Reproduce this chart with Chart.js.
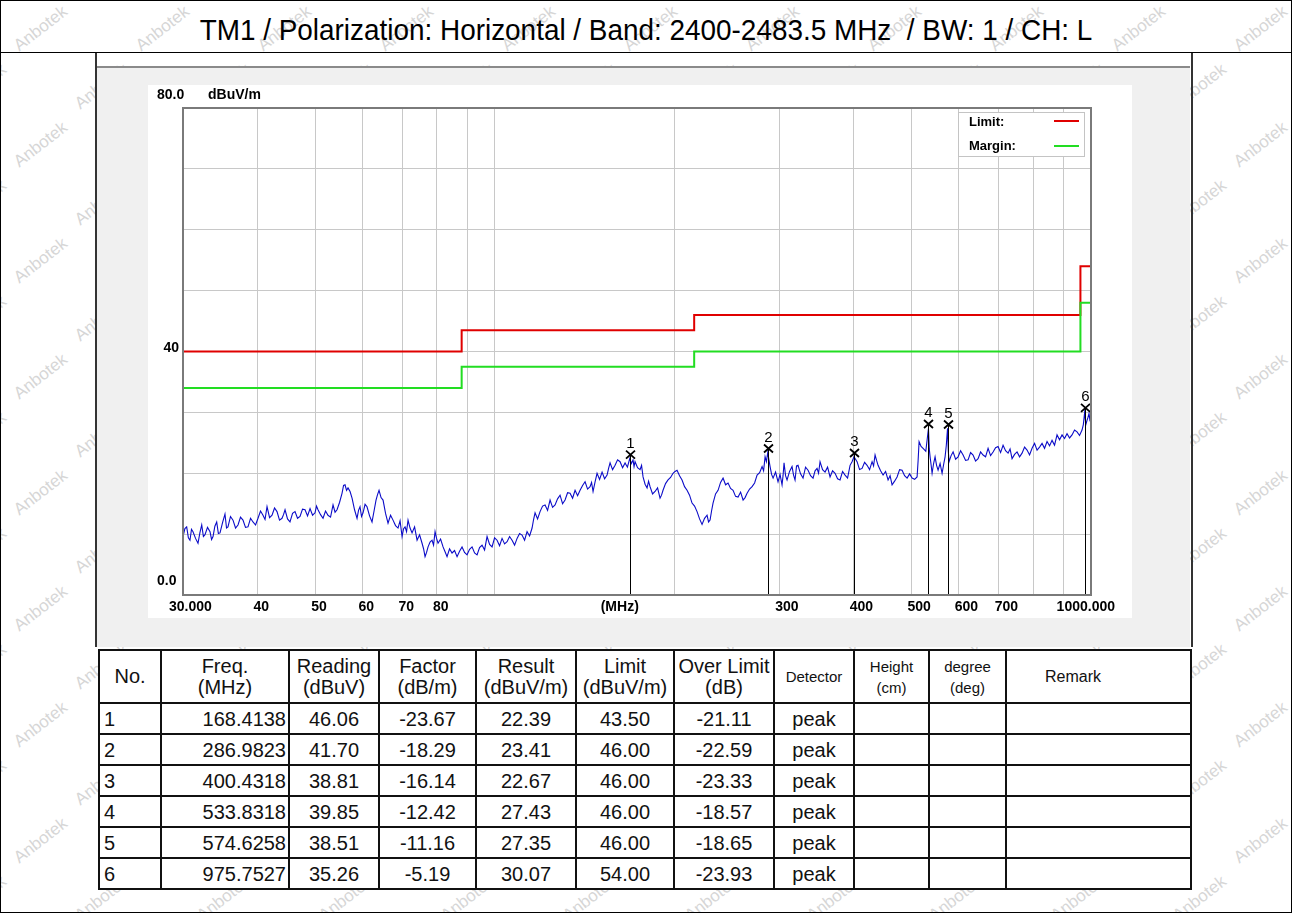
<!DOCTYPE html>
<html>
<head>
<meta charset="utf-8">
<script src="https://cdn.jsdelivr.net/npm/chart.js@4.4.1/dist/chart.umd.min.js"></script>
<style>
html,body{margin:0;padding:0;background:#fff;}
#page{position:relative;width:1292px;height:913px;overflow:hidden;font-family:"Liberation Sans",Arial,sans-serif;color:#111;}
#wm{position:absolute;left:0;top:0;width:1292px;height:913px;}
#wm span{position:absolute;font-size:17px;color:#d6d6d6;transform:rotate(-38deg);transform-origin:left top;white-space:nowrap;}
#frame{position:absolute;left:0;top:0;width:1290px;height:911px;border:1px solid #000;}
#titleLine{position:absolute;left:0;top:52px;width:1292px;height:0;border-top:1px solid #000;}
#title{position:absolute;left:0;top:14px;width:1292px;text-align:center;font-size:30px;line-height:32px;color:#000;transform:scaleX(0.93);transform-origin:646px 0;}
#panel{position:absolute;left:95px;top:53px;width:1094px;height:594px;border-left:2px solid #333;border-right:2px solid #333;}
#gray{position:absolute;left:97px;top:66px;width:1093px;height:581px;background:#f0f0f0;border-top:2px solid #8a8a8a;box-sizing:border-box;}
#white{position:absolute;left:148px;top:85px;width:984px;height:533px;background:#fff;}
#chartBox{position:absolute;left:148px;top:85px;width:984px;height:533px;}
#tbl{position:absolute;left:98px;top:649px;width:1092px;border-collapse:collapse;table-layout:fixed;background:#fff;}
#tbl td{border:2px solid #111;padding:0;font-size:20px;text-align:center;vertical-align:middle;height:29px;line-height:22px;overflow:hidden;white-space:nowrap;}
#tbl tr.h td{height:51px;line-height:21px;}
#tbl td.l{text-align:left;padding-left:4px;}
#tbl td.r{text-align:right;padding-right:2px;}
#tbl td.s{font-size:15px;line-height:19px;}
#tbl td.rm{text-align:left;padding-left:38px;font-size:16px;}
</style>
</head>
<body>
<div id="page">
  <div id="wm"></div>
  <div id="frame"></div>
  <div id="title">TM1 / Polarization: Horizontal / Band: 2400-2483.5 MHz &nbsp;/ BW: 1 / CH: L</div>
  <div id="titleLine"></div>
  <div id="panel"></div>
  <div id="gray"></div>
  <div id="white"></div>
  <div id="chartBox"><canvas id="c" width="984" height="533"></canvas></div>
  <table id="tbl"><colgroup>
    <col style="width:62px"><col style="width:128px"><col style="width:90px"><col style="width:97px">
    <col style="width:100px"><col style="width:98px"><col style="width:100px"><col style="width:80px">
    <col style="width:75px"><col style="width:77px"><col style="width:185px"></colgroup>
    <tbody id="tb"></tbody></table>
</div>
<script>
// ---------------- data ----------------
const traceFreq = [
30.00,30.22,30.43,30.63,30.82,31.00,31.18,31.49,31.79,32.02,
32.25,32.46,32.66,32.98,33.30,33.50,33.69,33.93,34.17,34.39,
34.61,34.95,35.28,35.49,35.69,36.04,36.39,36.75,37.10,37.46,
37.82,38.19,38.56,38.94,39.31,39.70,40.08,40.47,40.86,41.18,
41.50,41.91,42.31,42.72,43.13,43.55,43.97,44.23,44.49,44.92,
45.35,45.80,46.24,46.69,47.14,47.60,48.06,48.53,49.00,49.48,
49.95,50.24,50.53,51.03,51.52,52.02,52.52,53.04,53.55,53.97,
54.38,54.91,55.44,55.77,56.09,56.42,56.74,57.19,57.63,58.19,
58.75,59.09,59.43,59.78,60.13,60.60,61.06,61.66,62.25,62.74,
63.22,63.59,63.96,64.46,64.96,65.59,66.22,66.87,67.51,68.17,
68.83,69.37,69.91,70.32,70.72,71.13,71.54,72.10,72.66,73.37,
74.08,74.80,75.52,75.96,76.40,76.85,77.29,77.89,78.49,78.95,
79.41,79.87,80.33,81.12,81.90,82.54,83.17,83.98,84.79,85.62,
86.45,87.29,88.13,88.99,89.85,90.73,91.61,92.50,93.39,94.30,
95.21,96.14,97.07,98.02,98.96,99.93,100.89,101.88,102.86,103.87,
104.87,105.89,106.91,107.96,109.00,110.06,111.12,112.21,113.29,114.40,
115.50,116.17,116.84,117.98,119.12,120.28,121.44,122.63,123.81,125.02,
126.22,127.45,128.68,129.94,131.19,132.47,133.75,135.06,136.36,137.69,
139.02,140.38,141.73,143.11,144.49,145.33,146.17,147.31,148.45,149.90,
151.35,152.83,154.30,155.20,156.10,157.62,159.14,160.69,162.24,163.83,
165.41,166.91,168.41,169.50,170.58,171.24,171.90,173.58,175.26,176.28,
177.30,178.69,180.07,181.12,182.16,183.94,185.72,187.52,189.32,190.42,
191.52,193.39,195.26,197.17,199.07,200.62,202.17,204.14,206.11,208.12,
210.13,212.18,214.23,216.32,218.41,220.54,222.67,224.84,227.01,228.34,
229.66,231.00,232.33,234.60,236.87,239.18,241.49,243.85,246.20,248.60,
251.00,253.45,255.90,258.40,260.90,262.93,264.96,267.55,270.13,272.77,
275.40,278.09,280.77,282.41,284.04,285.51,286.98,288.28,289.58,291.27,
292.95,295.78,298.61,300.94,303.27,304.45,305.62,307.40,309.18,312.20,
315.21,317.04,318.87,320.73,322.58,325.74,328.89,332.10,335.31,338.58,
341.85,344.51,347.17,349.19,351.21,354.64,358.07,361.56,365.05,368.61,
372.17,375.80,379.43,383.13,386.83,390.60,394.37,397.40,400.43,402.80,
405.17,409.13,413.09,417.12,421.15,425.26,429.36,431.86,434.36,436.89,
439.41,443.70,447.99,452.36,456.73,460.29,463.84,468.37,472.89,477.50,
482.11,486.82,491.52,496.32,501.11,506.00,510.88,512.86,514.84,518.86,
522.88,528.36,533.83,535.50,537.18,539.27,541.35,544.50,547.64,550.82,
554.00,558.33,562.65,565.92,569.19,571.91,574.63,576.36,578.08,582.59,
587.09,592.81,598.53,604.36,610.19,616.14,622.08,628.14,634.20,640.38,
646.56,652.86,659.16,665.58,672.00,678.55,685.10,691.78,698.45,705.26,
712.06,719.00,725.93,731.59,737.24,744.43,751.61,758.94,766.26,773.73,
781.19,788.80,796.41,804.17,811.93,819.84,827.75,835.82,843.88,852.10,
860.32,868.70,877.08,885.64,894.20,902.90,911.60,920.50,929.40,938.45,
947.50,956.74,965.97,970.86,975.75,980.28,984.80,988.60,992.40,996.20,
1000.00];
const traceLevel = [
9.6,10.9,11.2,9.4,9.0,10.8,10.4,9.3,8.5,10.2,
11.5,9.6,9.9,11.1,10.4,9.1,9.6,11.3,12.0,10.1,
10.2,11.9,13.3,11.0,11.2,12.9,12.3,11.0,11.5,12.8,
12.3,11.1,11.2,12.6,12.0,11.5,12.6,13.8,13.1,12.4,
14.5,12.7,13.1,14.3,13.7,12.3,12.6,13.2,14.0,12.5,
12.0,13.4,13.7,12.6,12.9,14.1,14.0,13.0,14.2,13.1,
13.5,14.6,14.0,13.2,12.6,13.8,13.1,12.8,14.8,13.6,
14.0,15.2,16.7,18.0,18.1,17.2,17.6,17.0,15.9,14.0,
12.6,13.9,14.5,12.9,13.5,14.9,14.5,13.0,12.0,13.8,
15.6,16.5,17.2,16.0,15.6,13.4,11.8,13.1,12.3,11.4,
11.0,12.2,9.6,10.9,11.2,10.4,12.3,11.0,10.2,11.2,
9.0,9.9,8.5,7.6,6.3,7.0,7.9,8.7,9.0,8.2,
10.4,9.3,8.5,9.2,7.9,7.1,6.3,7.6,6.9,7.3,
6.3,7.2,7.9,7.0,6.6,7.5,7.9,6.9,6.6,7.8,
8.2,7.4,9.6,8.3,7.9,9.4,9.0,8.1,9.3,8.4,
8.75,9.6,9.0,8.2,9.3,10.1,9.85,9.0,10.4,9.7,
11.0,12.4,13.5,12.5,13.7,14.6,14.8,13.9,15.6,14.4,
14.8,15.8,16.4,15.0,15.6,16.8,16.7,15.9,17.2,16.3,
17.2,18.0,18.6,17.4,17.8,18.5,17.0,18.6,20.0,19.0,
20.2,19.1,19.7,20.8,21.7,20.6,21.3,22.2,21.9,20.9,
21.7,21.0,22.4,21.6,22.2,21.1,21.9,20.9,20.6,21.3,
19.4,18.2,17.6,18.7,17.8,16.6,17.0,17.6,15.9,16.4,
17.2,18.3,18.9,19.3,20.0,20.3,20.5,19.6,18.9,17.8,
17.2,16.4,15.1,14.6,13.7,12.5,11.6,12.6,13.1,12.0,
12.3,13.8,15.1,16.6,17.2,18.5,19.2,18.1,18.4,17.5,
17.2,16.2,16.1,16.9,15.6,16.0,16.7,17.4,17.8,18.4,
19.7,20.1,21.1,20.4,22.7,21.9,23.4,22.2,21.1,19.8,
19.2,20.2,18.6,19.8,18.1,19.6,21.7,19.6,18.9,20.3,
21.1,19.7,18.9,21.2,21.3,19.9,19.2,21.0,20.5,19.6,
19.2,20.4,20.8,20.0,21.9,20.6,20.2,21.0,19.4,20.4,
20.0,19.1,18.9,20.3,19.7,19.2,21.3,21.9,22.7,22.3,
21.9,20.6,20.8,21.8,21.3,20.6,21.9,21.2,23.0,22.1,
21.3,20.4,19.7,20.3,18.9,19.6,18.1,18.7,19.4,20.6,
20.5,19.6,19.2,19.9,19.2,19.0,19.4,22.0,25.2,24.4,
24.1,23.6,27.4,24.0,22.7,21.4,20.0,21.6,22.7,21.3,
20.5,21.6,20.0,21.4,22.7,24.6,27.4,23.6,21.9,22.9,
23.5,22.3,22.7,23.7,23.0,22.1,22.2,23.4,23.0,22.0,
22.4,23.5,23.0,22.7,24.1,22.9,23.5,24.2,24.4,23.4,
24.6,23.7,23.3,24.0,22.4,23.1,23.5,22.7,23.3,24.3,
23.8,23.0,24.1,24.9,23.8,24.3,24.9,24.1,25.2,24.5,
25.4,24.6,26.3,25.5,26.3,25.7,26.5,25.8,26.3,27.1,
26.8,26.2,27.1,28.0,30.0,28.0,28.7,29.2,29.8,28.6,
28.5];

const limitFreq  = [30, 88, 216, 960, 1000];
const limitLevel = [40, 43.5, 46, 54, 54];
const marginLevel = [34, 37.5, 40, 48, 48];

const markerNo    = ['1','2','3','4','5','6'];
const markerFreq  = [168.4138, 286.9823, 400.4318, 533.8318, 574.6258, 975.7527];
const markerRead  = ['46.06','41.70','38.81','39.85','38.51','35.26'];
const markerFact  = ['-23.67','-18.29','-16.14','-12.42','-11.16','-5.19'];
const markerLevel = [22.39, 23.41, 22.67, 27.43, 27.35, 30.07];
const markerLimit = ['43.50','46.00','46.00','46.00','46.00','54.00'];
const markerOver  = ['-21.11','-22.59','-23.33','-18.57','-18.65','-23.93'];
const markerDet   = ['peak','peak','peak','peak','peak','peak'];

const gridFreq = [30,40,50,60,70,80,90,100,200,300,400,500,600,700,800,900,1000];
const xTickLabels = {30:'30.000',40:'40',50:'50',60:'60',70:'70',80:'80',300:'300',400:'400',500:'500',600:'600',700:'700',1000:'1000.000'};
const yTickLabels = [[80,'80.0'],[40,'40'],[0,'0.0']];

// ---------------- watermark ----------------
(function(){
  const wm = document.getElementById('wm');
  let html = '';
  for (let r = 0; r < 17; r++) {
    for (let c = -1; c < 12; c++) {
      const x = c * 122 + (r % 2) * 61 + 10;
      const y = r * 58 + 40;
      html += '<span style="left:' + x + 'px;top:' + y + 'px">Anbotek</span>';
    }
  }
  wm.innerHTML = html;
})();

// ---------------- table ----------------
(function(){
  const tb = document.getElementById('tb');
  let h = '<tr class="h"><td>No.</td><td>Freq.<br>(MHz)</td><td>Reading<br>(dBuV)</td><td>Factor<br>(dB/m)</td>' +
    '<td>Result<br>(dBuV/m)</td><td>Limit<br>(dBuV/m)</td><td>Over Limit<br>(dB)</td><td class="s">Detector</td>' +
    '<td class="s">Height<br>(cm)</td><td class="s">degree<br>(deg)</td><td class="rm">Remark</td></tr>';
  for (let i = 0; i < markerNo.length; i++) {
    h += '<tr><td class="l">' + markerNo[i] + '</td><td class="r">' + markerFreq[i].toFixed(4) + '</td><td>' + markerRead[i] +
      '</td><td>' + markerFact[i] + '</td><td>' + markerLevel[i].toFixed(2) + '</td><td>' + markerLimit[i] +
      '</td><td>' + markerOver[i] + '</td><td>' + markerDet[i] + '</td><td></td><td></td><td></td></tr>';
  }
  tb.innerHTML = h;
})();

// ---------------- chart ----------------
const FONT = '"Liberation Sans", Arial, sans-serif';
const overlay = {
  id: 'overlay',
  afterDatasetsDraw(chart) {
    const {ctx, chartArea: a, scales: {x, y}} = chart;
    ctx.save();
    ctx.strokeStyle = '#000';
    ctx.fillStyle = '#000';
    ctx.font = '15px ' + FONT;
    ctx.textAlign = 'center';
    ctx.textBaseline = 'middle';
    markerFreq.forEach((f, i) => {
      const px = Math.round(x.getPixelForValue(f)) + 0.5;
      const py = y.getPixelForValue(markerLevel[i]) - 4;
      ctx.lineWidth = 1;
      ctx.beginPath(); ctx.moveTo(px, py); ctx.lineTo(px, a.bottom); ctx.stroke();
      ctx.lineWidth = 1.8;
      ctx.beginPath();
      ctx.moveTo(px - 4.5, py - 4); ctx.lineTo(px + 4.5, py + 4);
      ctx.moveTo(px + 4.5, py - 4); ctx.lineTo(px - 4.5, py + 4);
      ctx.stroke();
      ctx.fillText(markerNo[i], px, py - 11);
    });
    ctx.restore();
  },
  afterDraw(chart) {
    const {ctx, chartArea: a, scales: {x, y}} = chart;
    ctx.save();
    ctx.strokeStyle = '#7a7a7a';
    ctx.lineWidth = 2;
    ctx.strokeRect(a.left, a.top, a.right - a.left, a.bottom - a.top);
    const bx = a.right - 133, by = a.top + 4, bw = 126, bh = 44;
    ctx.fillStyle = '#fff';
    ctx.fillRect(bx, by, bw, bh);
    ctx.strokeStyle = '#c4c4c4';
    ctx.lineWidth = 1;
    ctx.strokeRect(bx + 0.5, by + 0.5, bw, bh);
    ctx.fillStyle = '#000';
    ctx.font = 'bold 13px ' + FONT;
    ctx.textAlign = 'left';
    ctx.textBaseline = 'middle';
    ctx.fillText('Limit:', bx + 11, by + 10);
    ctx.fillText('Margin:', bx + 11, by + 34);
    ctx.lineWidth = 2;
    ctx.strokeStyle = '#e00000';
    ctx.beginPath(); ctx.moveTo(bx + 96, by + 9); ctx.lineTo(bx + 121, by + 9); ctx.stroke();
    ctx.strokeStyle = '#22dd22';
    ctx.beginPath(); ctx.moveTo(bx + 96, by + 34); ctx.lineTo(bx + 121, by + 34); ctx.stroke();
    ctx.fillStyle = '#000';
    ctx.font = 'bold 14px ' + FONT;
    yTickLabels.forEach(([v, t]) => {
      const py = y.getPixelForValue(v);
      if (v === 80) { ctx.textAlign = 'left'; ctx.fillText(t, a.left - 26, py - 13); }
      else if (v === 0) { ctx.textAlign = 'left'; ctx.fillText(t, a.left - 26, py - 14); }
      else { ctx.textAlign = 'right'; ctx.fillText(t, a.left - 4, py - 3); }
    });
    ctx.textAlign = 'left';
    ctx.fillText('dBuV/m', a.left + 25, y.getPixelForValue(80) - 13);
    const ly = a.bottom + 12;
    gridFreq.forEach(v => {
      const t = xTickLabels[v];
      if (!t) return;
      const px = x.getPixelForValue(v);
      if (v === 30) { ctx.textAlign = 'left'; ctx.fillText(t, px - 14, ly); }
      else if (v === 1000) { ctx.textAlign = 'right'; ctx.fillText(t, px + 24, ly); }
      else { ctx.textAlign = 'left'; ctx.fillText(t, px - 4, ly); }
    });
    ctx.textAlign = 'center';
    ctx.fillText('(MHz)', a.left + (a.right - a.left) * 0.481, ly);
    ctx.restore();
  }
};

new Chart(document.getElementById('c'), {
  type: 'line',
  data: {
    datasets: [
      {
        label: 'Trace',
        data: traceFreq.map((f, i) => ({x: f, y: traceLevel[i]})),
        borderColor: '#0b0bc8',
        borderWidth: 1.1,
        pointRadius: 0,
        tension: 0,
        order: 3
      },
      {
        label: 'Limit',
        data: limitFreq.map((f, i) => ({x: f, y: limitLevel[i]})),
        borderColor: '#e00000',
        borderWidth: 2,
        pointRadius: 0,
        stepped: 'before',
        order: 2
      },
      {
        label: 'Margin',
        data: limitFreq.map((f, i) => ({x: f, y: marginLevel[i]})),
        borderColor: '#22dd22',
        borderWidth: 2,
        pointRadius: 0,
        stepped: 'before',
        order: 1
      }
    ]
  },
  options: {
    responsive: false,
    animation: false,
    devicePixelRatio: 1,
    layout: {padding: {left: 35, right: 41, top: 23, bottom: 23}},
    plugins: {legend: {display: false}, tooltip: {enabled: false}},
    scales: {
      x: {
        type: 'logarithmic', min: 30, max: 1000,
        afterBuildTicks: s => { s.ticks = gridFreq.map(v => ({value: v})); },
        ticks: {display: false},
        grid: {color: '#c8c8c8', lineWidth: 1, drawTicks: false},
        border: {display: false}
      },
      y: {
        type: 'linear', min: 0, max: 80,
        ticks: {display: false, stepSize: 10},
        grid: {color: '#c8c8c8', lineWidth: 1, drawTicks: false},
        border: {display: false}
      }
    }
  },
  plugins: [overlay]
});
</script>
</body>
</html>
